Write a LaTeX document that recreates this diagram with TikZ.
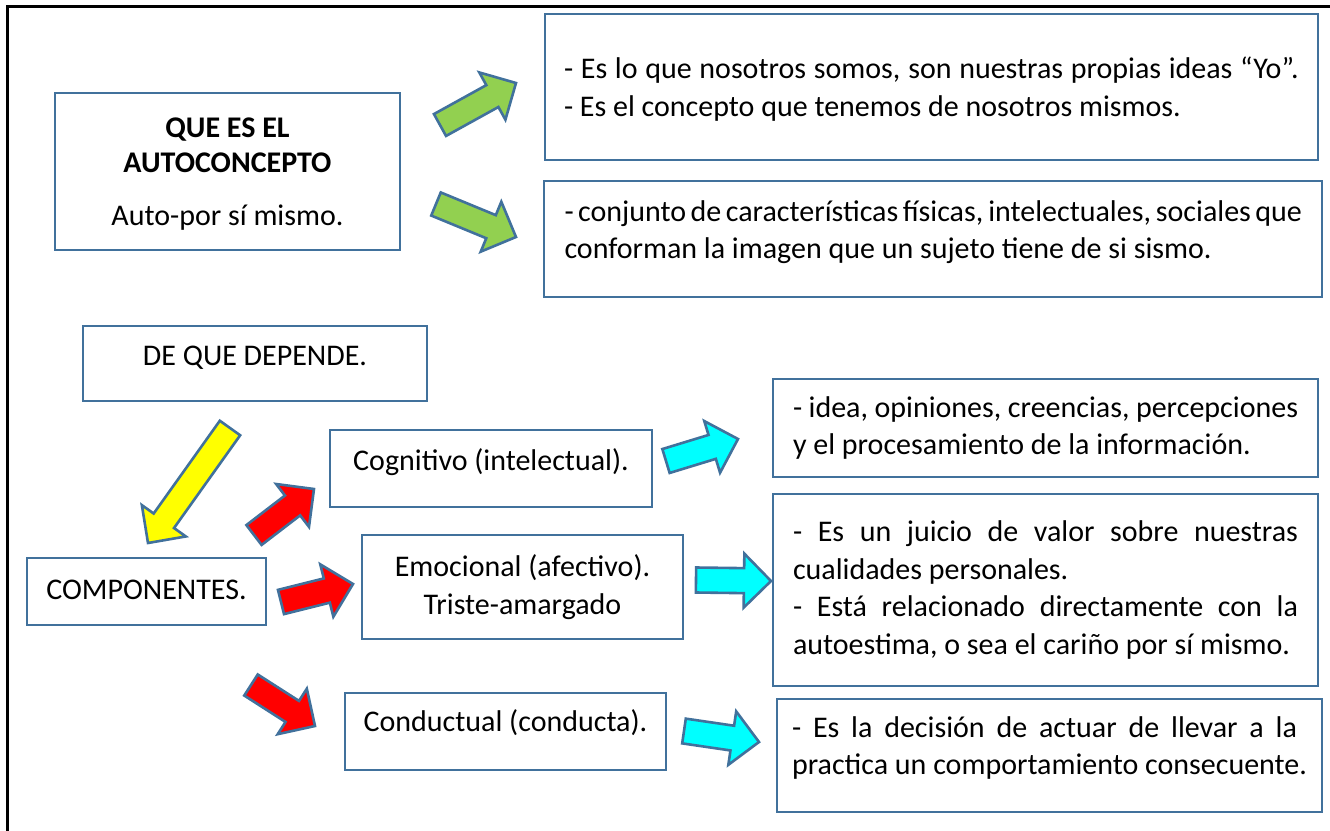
\documentclass[tikz,border=0pt]{standalone}
\usepackage{fontspec}
\setmainfont{Carlito}
\usetikzlibrary{calc}

\definecolor{boxblue}{RGB}{65,113,156}
\definecolor{arrowgreen}{RGB}{146,208,80}
\definecolor{arrowyellow}{RGB}{255,255,0}
\definecolor{arrowred}{RGB}{255,0,0}
\definecolor{arrowcyan}{RGB}{0,255,255}

\newcommand{\shafthw}{6.25pt}
\newcommand{\headhw}{13.5pt}
\newcommand{\headlen}{13.5pt}
\newcommand{\fatarrow}[3]{%
  \draw[fat arrow, fill=#1] let \p1=($(#3)-(#2)$), \n1={atan2(\y1,\x1)}, \n2={veclen(\x1,\y1)-\headlen} in
    ($(#2)+(\n1+90:\shafthw)$) -- ($(#2)+(\n1:\n2)+(\n1+90:\shafthw)$) -- ($(#2)+(\n1:\n2)+(\n1+90:\headhw)$)
    -- (#3) -- ($(#2)+(\n1:\n2)+(\n1-90:\headhw)$) -- ($(#2)+(\n1:\n2)+(\n1-90:\shafthw)$)
    -- ($(#2)+(\n1-90:\shafthw)$) -- cycle;}
% invisible struts to nudge text up or down in its box
\newcommand{\lift}[1]{\rule[-#1]{0pt}{#1}}
\newcommand{\sink}[1]{\rule{0pt}{#1}}
\newcommand{\fullline}[2][252.5pt]{\makebox[#1][s]{#2}}
\newcommand{\raggedline}[2][252.5pt]{\makebox[#1][l]{#2}}

\begin{document}
\begin{tikzpicture}[x=0.5pt, y=-0.5pt,
  font=\fontsize{15}{18.75}\selectfont,
  box/.style={draw=boxblue, line width=1.1pt, inner sep=0pt},
  boxsize/.style 2 args={minimum width=#1*0.5pt, minimum height=#2*0.5pt},
  fat arrow/.style={draw=boxblue, line width=1.3pt, line join=miter}]
%	\draw [help lines] (0,0) grid (1330,831);
	\useasboundingbox (0,0) rectangle (1330,831);
	\draw [line width=1.5pt] (7,831) -- (7,6) -- (1330,6);

	\node [box, boxsize={345}{157}, align=center, font=\fontsize{15}{17.5}\selectfont] (que) at (227.5,171.5)
		{\textbf{QUE ES EL}\sink{12.7pt}\\\textbf{AUTOCONCEPTO}\\[9pt]Auto-por sí mismo.};
	\node [box, boxsize={773}{146}, align=left] (yo) at (931.5,87)
		{\fullline[367.5pt]{- Es lo que nosotros somos, son nuestras propias ideas “Yo”.\sink{13pt}}\\
		 \raggedline[367.5pt]{- Es el concepto que tenemos de nosotros mismos.}};
	\node [box, boxsize={778}{116}, align=left] (conjunto) at (933,239)
		{\fullline[368.5pt]{- conjunto de características físicas, intelectuales, sociales que}\\conforman la imagen que un sujeto tiene de si sismo.\lift{9.5pt}};
	\node [box, boxsize={344}{75}] (depende) at (255,363.5) {DE QUE DEPENDE.\lift{7.5pt}};
	\node [box, boxsize={239}{67}] (componentes) at (146.5,591.5) {COMPONENTES.\lift{1.5pt}};
	\node [box, boxsize={322}{77}] (cognitivo) at (491,468.5) {Cognitivo (intelectual).\lift{8.5pt}};
	\node [box, boxsize={321}{104}, align=center] (emocional) at (522.5,587)
		{Emocional (afectivo).\\Triste-amargado};
	\node [box, boxsize={321}{77}] (conductual) at (505.5,731.5) {Conductual (conducta).\lift{10.5pt}};
	\node [box, boxsize={545}{98}, align=left] (ideas) at (1045.5,428)
		{\fullline{- idea, opiniones, creencias, percepciones}\\y el procesamiento de la información.};
	\node [box, boxsize={545}{192}, align=left] (juicio) at (1045.5,590)
		{\fullline{- Es un juicio de valor sobre nuestras}\\cualidades personales.\\
		 \fullline{- Está relacionado directamente con la}\\autoestima, o sea el cariño por sí mismo.};
	\node [box, boxsize={545}{113}, align=left] (decision) at (1049.5,755.5)
		{\fullline{- Es la decisión de actuar de llevar a la}\\practica un comportamiento consecuente.\lift{10pt}};

	\coordinate (g1a) at (440,125);	\coordinate (g1b) at (516,83);
	\coordinate (g2a) at (436,204);	\coordinate (g2b) at (516,237);
	\coordinate (ya) at (230,428);	\coordinate (yb) at (148,543);
	\coordinate (r1a) at (254,535);	\coordinate (r1b) at (314,489);
	\coordinate (r2a) at (281,602);	\coordinate (r2b) at (353,584);
	\coordinate (r3a) at (251,685);	\coordinate (r3b) at (315,726);
	\coordinate (c1a) at (666,461);	\coordinate (c1b) at (738,439);
	\coordinate (c2a) at (696,580);	\coordinate (c2b) at (771,581);
	\coordinate (c3a) at (684,731);	\coordinate (c3b) at (759,742);

	\fatarrow{arrowgreen}{g1a}{g1b}
	\fatarrow{arrowgreen}{g2a}{g2b}
	\fatarrow{arrowyellow}{ya}{yb}
	\fatarrow{arrowred}{r1a}{r1b}
	\fatarrow{arrowred}{r2a}{r2b}
	\fatarrow{arrowred}{r3a}{r3b}
	\fatarrow{arrowcyan}{c1a}{c1b}
	\fatarrow{arrowcyan}{c2a}{c2b}
	\fatarrow{arrowcyan}{c3a}{c3b}
\end{tikzpicture}
\end{document}
